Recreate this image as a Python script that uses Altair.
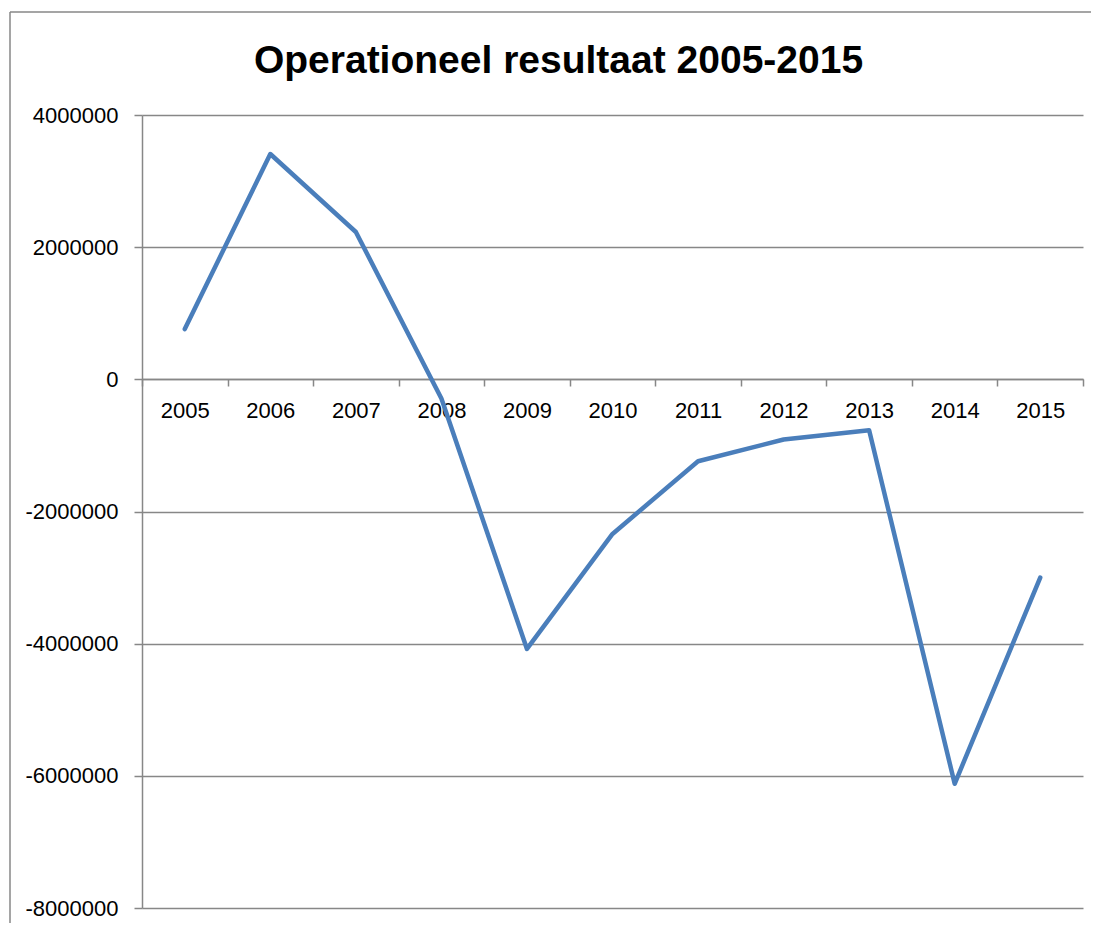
import altair as alt
import pandas as pd

years = ["2005", "2006", "2007", "2008", "2009", "2010", "2011", "2012", "2013", "2014", "2015"]
values = [760000, 3410000, 2230000, -290000, -4080000, -2340000, -1240000, -910000, -770000, -6120000, -3000000]
y_ticks = [-8000000, -6000000, -4000000, -2000000, 0, 2000000, 4000000]

df = pd.DataFrame({"year": years, "value": values})

GRAY = "#878787"
FONT = "Liberation Sans"

line = alt.Chart(df).mark_line(
    color="#4A7EBB", strokeWidth=4.5, strokeJoin="round", strokeCap="round"
).encode(
    x=alt.X(
        "year:O",
        bandPosition=0.5,
        sort=years,
        scale=alt.Scale(type="band", paddingInner=0, paddingOuter=0),
        axis=alt.Axis(
            orient="bottom", offset=-529, title=None, labelAngle=0,
            domainColor=GRAY, domainWidth=1.5, tickColor=GRAY, tickWidth=1.5,
            tickSize=7, tickBand="extent", labelFont=FONT, labelFontSize=22,
            labelColor="black", labelPadding=14, grid=False,
        ),
    ),
    y=alt.Y(
        "value:Q",
        scale=alt.Scale(domain=[-8000000, 4000000], nice=False),
        axis=alt.Axis(
            values=y_ticks, title=None, tickSize=8, tickColor=GRAY,
            labelExpr="datum.value < 0 ? '-' + format(-datum.value, 'd') : format(datum.value, 'd')",
            tickWidth=1.5, domainColor=GRAY, domainWidth=1.5, gridColor=GRAY,
            gridWidth=1.5, labelFont=FONT, labelFontSize=22, labelColor="black",
            labelPadding=16,
        ),
    ),
)

frame = pd.DataFrame({"a": [0]})
border_left = alt.Chart(frame).mark_rule(stroke=GRAY, strokeWidth=1.5).encode(
    x=alt.value(-132), y=alt.value(-103), y2=alt.value(808)
)
border_top = alt.Chart(frame).mark_rule(stroke=GRAY, strokeWidth=1.5).encode(
    x=alt.value(-132), x2=alt.value(949), y=alt.value(-103)
)
edge_mask = alt.Chart(frame).mark_rule(stroke="white", strokeWidth=6).encode(
    x=alt.value(949), y=alt.value(-98), y2=alt.value(808)
)

chart = alt.layer(border_left, border_top, line, edge_mask).properties(
    width=941,
    height=793,
    padding={"left": 134, "top": 107, "right": 8, "bottom": 15},
    autosize=alt.AutoSizeParams(type="none"),
    title=alt.TitleParams(
        "Operationeel resultaat 2005-2015", font=FONT, fontWeight="bold",
        fontSize=39, color="black", anchor="middle", baseline="alphabetic",
        frame="group", dx=-54, offset=-101,
    ),
).configure_view(stroke=None)

chart.save("out.html", embed_options={"renderer": "svg", "actions": False})
